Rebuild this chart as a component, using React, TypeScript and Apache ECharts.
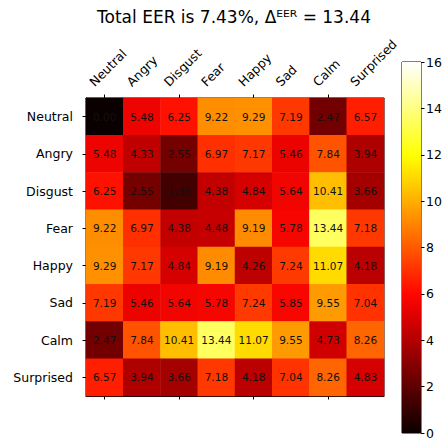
import React, { useEffect, useRef } from "react";
import * as echarts from "echarts";

const emotions = ["Neutral", "Angry", "Disgust", "Fear", "Happy", "Sad", "Calm", "Surprised"];
const rowNeutral = [0.0, 5.48, 6.25, 9.22, 9.29, 7.19, 2.47, 6.57];
const rowAngry = [5.48, 4.33, 2.55, 6.97, 7.17, 5.46, 7.84, 3.94];
const rowDisgust = [6.25, 2.55, 1.35, 4.38, 4.84, 5.64, 10.41, 3.66];
const rowFear = [9.22, 6.97, 4.38, 4.48, 9.19, 5.78, 13.44, 7.18];
const rowHappy = [9.29, 7.17, 4.84, 9.19, 4.26, 7.24, 11.07, 4.18];
const rowSad = [7.19, 5.46, 5.64, 5.78, 7.24, 5.85, 9.55, 7.04];
const rowCalm = [2.47, 7.84, 10.41, 13.44, 11.07, 9.55, 4.73, 8.26];
const rowSurprised = [6.57, 3.94, 3.66, 7.18, 4.18, 7.04, 8.26, 4.83];
const rows = [rowNeutral, rowAngry, rowDisgust, rowFear, rowHappy, rowSad, rowCalm, rowSurprised];
const colorbarMax = 16;
const colorbarInterval = 2;
const titleText = "Total EER is 7.43%, Δᴱᴱᴿ = 13.44";

// matplotlib "hot" colormap sampled at 17 evenly spaced stops
const hotColors = [
  "#0b0000", "#340000", "#5e0000", "#880000", "#b20000", "#dc0000",
  "#ff0700", "#ff3000", "#ff5a00", "#ff8400", "#ffae00", "#ffd800",
  "#ffff04", "#ffff43", "#ffff82", "#ffffc0", "#ffffff",
];

const FONT = "DejaVu Sans";

export default function App() {
  const ref = useRef<HTMLDivElement>(null);
  useEffect(() => {
    if (!ref.current) return;
    const chart = echarts.init(ref.current, undefined, { renderer: "svg" });
    const data: [number, number, number][] = [];
    rows.forEach((row, r) => row.forEach((v, c) => data.push([c, r, v])));
    const gradStops = hotColors.map((c, i) => ({ offset: i / (hotColors.length - 1), color: c }));
    chart.setOption({
      animation: false,
      backgroundColor: "#ffffff",
      textStyle: { fontFamily: FONT },
      graphic: [
        {
          type: "text",
          x: 234,
          y: 17,
          style: {
            text: titleText,
            fontFamily: FONT,
            fontSize: 17,
            fill: "#000",
            textAlign: "center",
            textVerticalAlign: "middle",
          },
        },
      ],
      grid: [
        { left: 86, top: 98, width: 298, height: 298, show: true, borderColor: "#000", borderWidth: 1, backgroundColor: "transparent" },
        { left: 402, top: 62, width: 19, height: 371, show: true, borderColor: "#000", borderWidth: 1, backgroundColor: "transparent" },
        { left: 73, top: 74, width: 298, height: 10, show: false },
      ],
      xAxis: [
        {
          type: "category",
          gridIndex: 0,
          position: "top",
          data: emotions,
          axisLine: { show: true, lineStyle: { color: "#000", width: 1 } },
          axisTick: { show: true, alignWithLabel: true, length: 3.5, lineStyle: { color: "#000" } },
          axisLabel: { show: false },
          splitLine: { show: false },
        },
        {
          type: "category",
          gridIndex: 0,
          position: "bottom",
          data: emotions,
          axisLine: { show: true, lineStyle: { color: "#000", width: 1 } },
          axisTick: { show: true, alignWithLabel: true, length: 3.5, lineStyle: { color: "#000" } },
          axisLabel: { show: false },
          splitLine: { show: false },
        },
        {
          type: "category",
          gridIndex: 1,
          data: [""],
          show: false,
        },
        {
          type: "category",
          gridIndex: 2,
          position: "bottom",
          data: emotions,
          axisLine: { show: false },
          axisTick: { show: false },
          axisLabel: {
            rotate: 45,
            align: "left",
            verticalAlign: "middle",
            color: "#000",
            fontSize: 12.5,
            fontFamily: FONT,
            margin: 0,
            interval: 0,
          },
          splitLine: { show: false },
        },
      ],
      yAxis: [
        {
          type: "category",
          gridIndex: 0,
          inverse: true,
          data: emotions,
          axisLine: { show: true, lineStyle: { color: "#000", width: 1 } },
          axisTick: { show: true, alignWithLabel: true, length: 3.5, lineStyle: { color: "#000" } },
          axisLabel: { color: "#000", fontSize: 12.5, fontFamily: FONT, margin: 13 },
          splitLine: { show: false },
        },
        {
          type: "value",
          gridIndex: 1,
          position: "right",
          min: 0,
          max: colorbarMax,
          interval: colorbarInterval,
          axisLine: { show: false },
          axisTick: { show: true, length: 3.5, lineStyle: { color: "#000" } },
          axisLabel: { color: "#000", fontSize: 12.5, fontFamily: FONT, margin: 5 },
          splitLine: { show: false },
        },
        {
          type: "value",
          gridIndex: 2,
          show: false,
        },
      ],
      visualMap: {
        type: "continuous",
        show: false,
        seriesIndex: 0,
        min: 0,
        max: colorbarMax,
        inRange: { color: hotColors },
      },
      series: [
        {
          type: "heatmap",
          xAxisIndex: 0,
          yAxisIndex: 0,
          data,
          itemStyle: { borderWidth: 0 },
          label: {
            show: true,
            color: "#111",
            fontSize: 10.5,
            fontFamily: FONT,
            formatter: (p: any) => Number(p.value[2]).toFixed(2),
          },
          emphasis: { disabled: true },
        },
        {
          type: "bar",
          xAxisIndex: 2,
          yAxisIndex: 1,
          data: [colorbarMax],
          barWidth: "100%",
          itemStyle: {
            color: new echarts.graphic.LinearGradient(0, 1, 0, 0, gradStops),
          },
          silent: true,
        },
      ],
    });
    return () => chart.dispose();
  }, []);
  return (
    <div
      ref={ref}
      style={{ position: "fixed", left: 0, top: 0, width: 448, height: 440 }}
    />
  );
}
